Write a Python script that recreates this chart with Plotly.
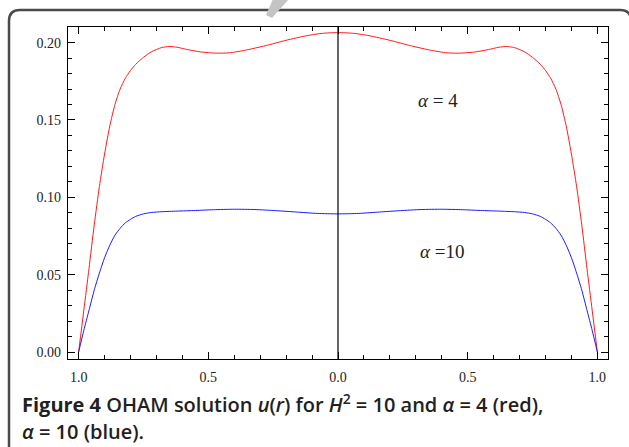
import plotly.graph_objects as go

# Red curve (alpha = 4): x and u values
red_x = [-1.00, -0.98, -0.96, -0.94, -0.92, -0.90, -0.88, -0.86, -0.84, -0.82, -0.80,
         -0.78, -0.75, -0.72, -0.68, -0.65, -0.62, -0.58, -0.53, -0.47, -0.42, -0.36,
         -0.28, -0.20, -0.12, -0.06, 0.00,
         0.06, 0.12, 0.20, 0.28, 0.36, 0.42, 0.47, 0.53, 0.58, 0.62, 0.65, 0.68,
         0.72, 0.75, 0.78, 0.80, 0.82, 0.84, 0.86, 0.88, 0.90, 0.92, 0.94, 0.96, 0.98, 1.00]
red_y = [0.000, 0.027, 0.054, 0.082, 0.107, 0.128, 0.146, 0.160, 0.170, 0.177, 0.182,
         0.186, 0.1905, 0.194, 0.1968, 0.1975, 0.1970, 0.1955, 0.1940, 0.1932, 0.1934, 0.1950,
         0.1980, 0.2015, 0.2045, 0.2060, 0.2065,
         0.2060, 0.2045, 0.2015, 0.1980, 0.1950, 0.1934, 0.1932, 0.1940, 0.1955, 0.1970, 0.1975, 0.1968,
         0.194, 0.1905, 0.186, 0.182, 0.177, 0.170, 0.160, 0.146, 0.128, 0.107, 0.082, 0.054, 0.027, 0.000]

# Blue curve (alpha = 10)
blue_x = [-1.00, -0.98, -0.96, -0.94, -0.92, -0.90, -0.88, -0.86, -0.84, -0.82, -0.80,
          -0.78, -0.75, -0.72, -0.68, -0.62, -0.55, -0.48, -0.40, -0.32, -0.24, -0.16,
          -0.08, 0.00,
          0.08, 0.16, 0.24, 0.32, 0.40, 0.48, 0.55, 0.62, 0.68, 0.72, 0.75, 0.78,
          0.80, 0.82, 0.84, 0.86, 0.88, 0.90, 0.92, 0.94, 0.96, 0.98, 1.00]
blue_y = [0.000, 0.014, 0.027, 0.040, 0.051, 0.061, 0.069, 0.0755, 0.0800, 0.0835, 0.0858,
          0.0877, 0.0893, 0.0902, 0.0907, 0.0911, 0.0915, 0.0920, 0.0923, 0.0921, 0.0914, 0.0905,
          0.0896, 0.0893,
          0.0896, 0.0905, 0.0914, 0.0921, 0.0923, 0.0920, 0.0915, 0.0911, 0.0907, 0.0902, 0.0893, 0.0877,
          0.0858, 0.0835, 0.0800, 0.0755, 0.069, 0.061, 0.051, 0.040, 0.027, 0.014, 0.000]

x_tickvals = [-1.0, -0.5, 0.0, 0.5, 1.0]
x_ticktext = ["1.0", "0.5", "0.0", "0.5", "1.0"]
y_tickvals = [0.00, 0.05, 0.10, 0.15, 0.20]
y_ticktext = ["0.00", "0.05", "0.10", "0.15", "0.20"]

W, H = 629, 447
ML, MR, MT, MB = 68, 21, 27, 88
PW, PH = W - ML - MR, H - MT - MB


def px(xp):
    return (xp - ML) / PW


def py(yp):
    return (H - MB - yp) / PH


fig = go.Figure()
fig.add_trace(go.Scatter(x=red_x, y=red_y, mode="lines",
                         line=dict(color="#ff1a1a", width=1, shape="spline", smoothing=0.6),
                         showlegend=False, hoverinfo="skip"))
fig.add_trace(go.Scatter(x=blue_x, y=blue_y, mode="lines",
                         line=dict(color="#1a1aff", width=1, shape="spline", smoothing=0.6),
                         showlegend=False, hoverinfo="skip"))

tickfont = dict(family="Liberation Serif", size=14, color="#222")
fig.update_xaxes(range=[-1.041, 1.041], tickvals=x_tickvals, ticktext=x_ticktext,
                 showgrid=False, zeroline=False, showline=True, linecolor="black",
                 linewidth=1.2, mirror="ticks", ticks="inside", ticklen=7, tickwidth=1,
                 tickcolor="black", tickfont=tickfont, ticklabelstandoff=5,
                 minor=dict(dtick=0.1, tick0=0, ticks="inside", ticklen=4, tickwidth=1,
                            tickcolor="black", showgrid=False))
fig.update_yaxes(range=[-0.0045, 0.2101], tickvals=y_tickvals, ticktext=y_ticktext,
                 showgrid=False, zeroline=False, showline=True, linecolor="black",
                 linewidth=1.2, mirror="ticks", ticks="inside", ticklen=7, tickwidth=1,
                 tickcolor="black", tickfont=tickfont, ticklabelstandoff=3,
                 minor=dict(dtick=0.01, tick0=0, ticks="inside", ticklen=4, tickwidth=1,
                            tickcolor="black", showgrid=False))

shapes = [
    dict(type="line", xref="x", yref="paper", x0=0, x1=0, y0=0, y1=1,
         line=dict(color="black", width=1.2)),
    # outer rounded frame
    dict(type="path", xref="paper", yref="paper",
         path=(f"M {px(631)} {py(460)} L {px(631)} {py(21)} Q {px(631)} {py(10)} {px(620)} {py(10)} "
               f"L {px(20)} {py(10)} Q {px(9)} {py(10)} {px(9)} {py(21)} L {px(9)} {py(460)}"),
         line=dict(color="#4a4a4a", width=2.5)),
    # grey decoration at top
    dict(type="path", xref="paper", yref="paper",
         path=f"M {px(273)} {py(-1)} L {px(289)} {py(-1)} L {px(272)} {py(18)} L {px(266)} {py(15)} Z",
         fillcolor="#c4c4c4", line=dict(width=0)),
]

annotations = [
    dict(x=0.387, y=0.1628, xref="x", yref="y", text="<i>α</i> = 4", showarrow=False,
         font=dict(family="Liberation Serif", size=19, color="#222")),
    dict(x=0.40, y=0.0649, xref="x", yref="y", text="<i>α</i> =10", showarrow=False,
         font=dict(family="Liberation Serif", size=19, color="#222")),
    dict(x=px(20), y=py(404), xref="paper", yref="paper", xanchor="left", yanchor="middle",
         text="<b>Figure 4</b> OHAM solution <i>u</i>(<i>r</i>) for <i>H</i><sup>2</sup> = 10 and <i>α</i> = 4 (red),",
         showarrow=False, font=dict(family="Open Sans", size=20, color="#231f20", weight=600)),
    dict(x=px(20), y=py(431), xref="paper", yref="paper", xanchor="left", yanchor="middle",
         text="<i>α</i> = 10 (blue).",
         showarrow=False, font=dict(family="Open Sans", size=20, color="#231f20", weight=600)),
]

fig.update_layout(width=W, height=H, margin=dict(l=ML, r=MR, t=MT, b=MB),
                  paper_bgcolor="white", plot_bgcolor="white",
                  shapes=shapes, annotations=annotations)

fig.write_html("out.html")
